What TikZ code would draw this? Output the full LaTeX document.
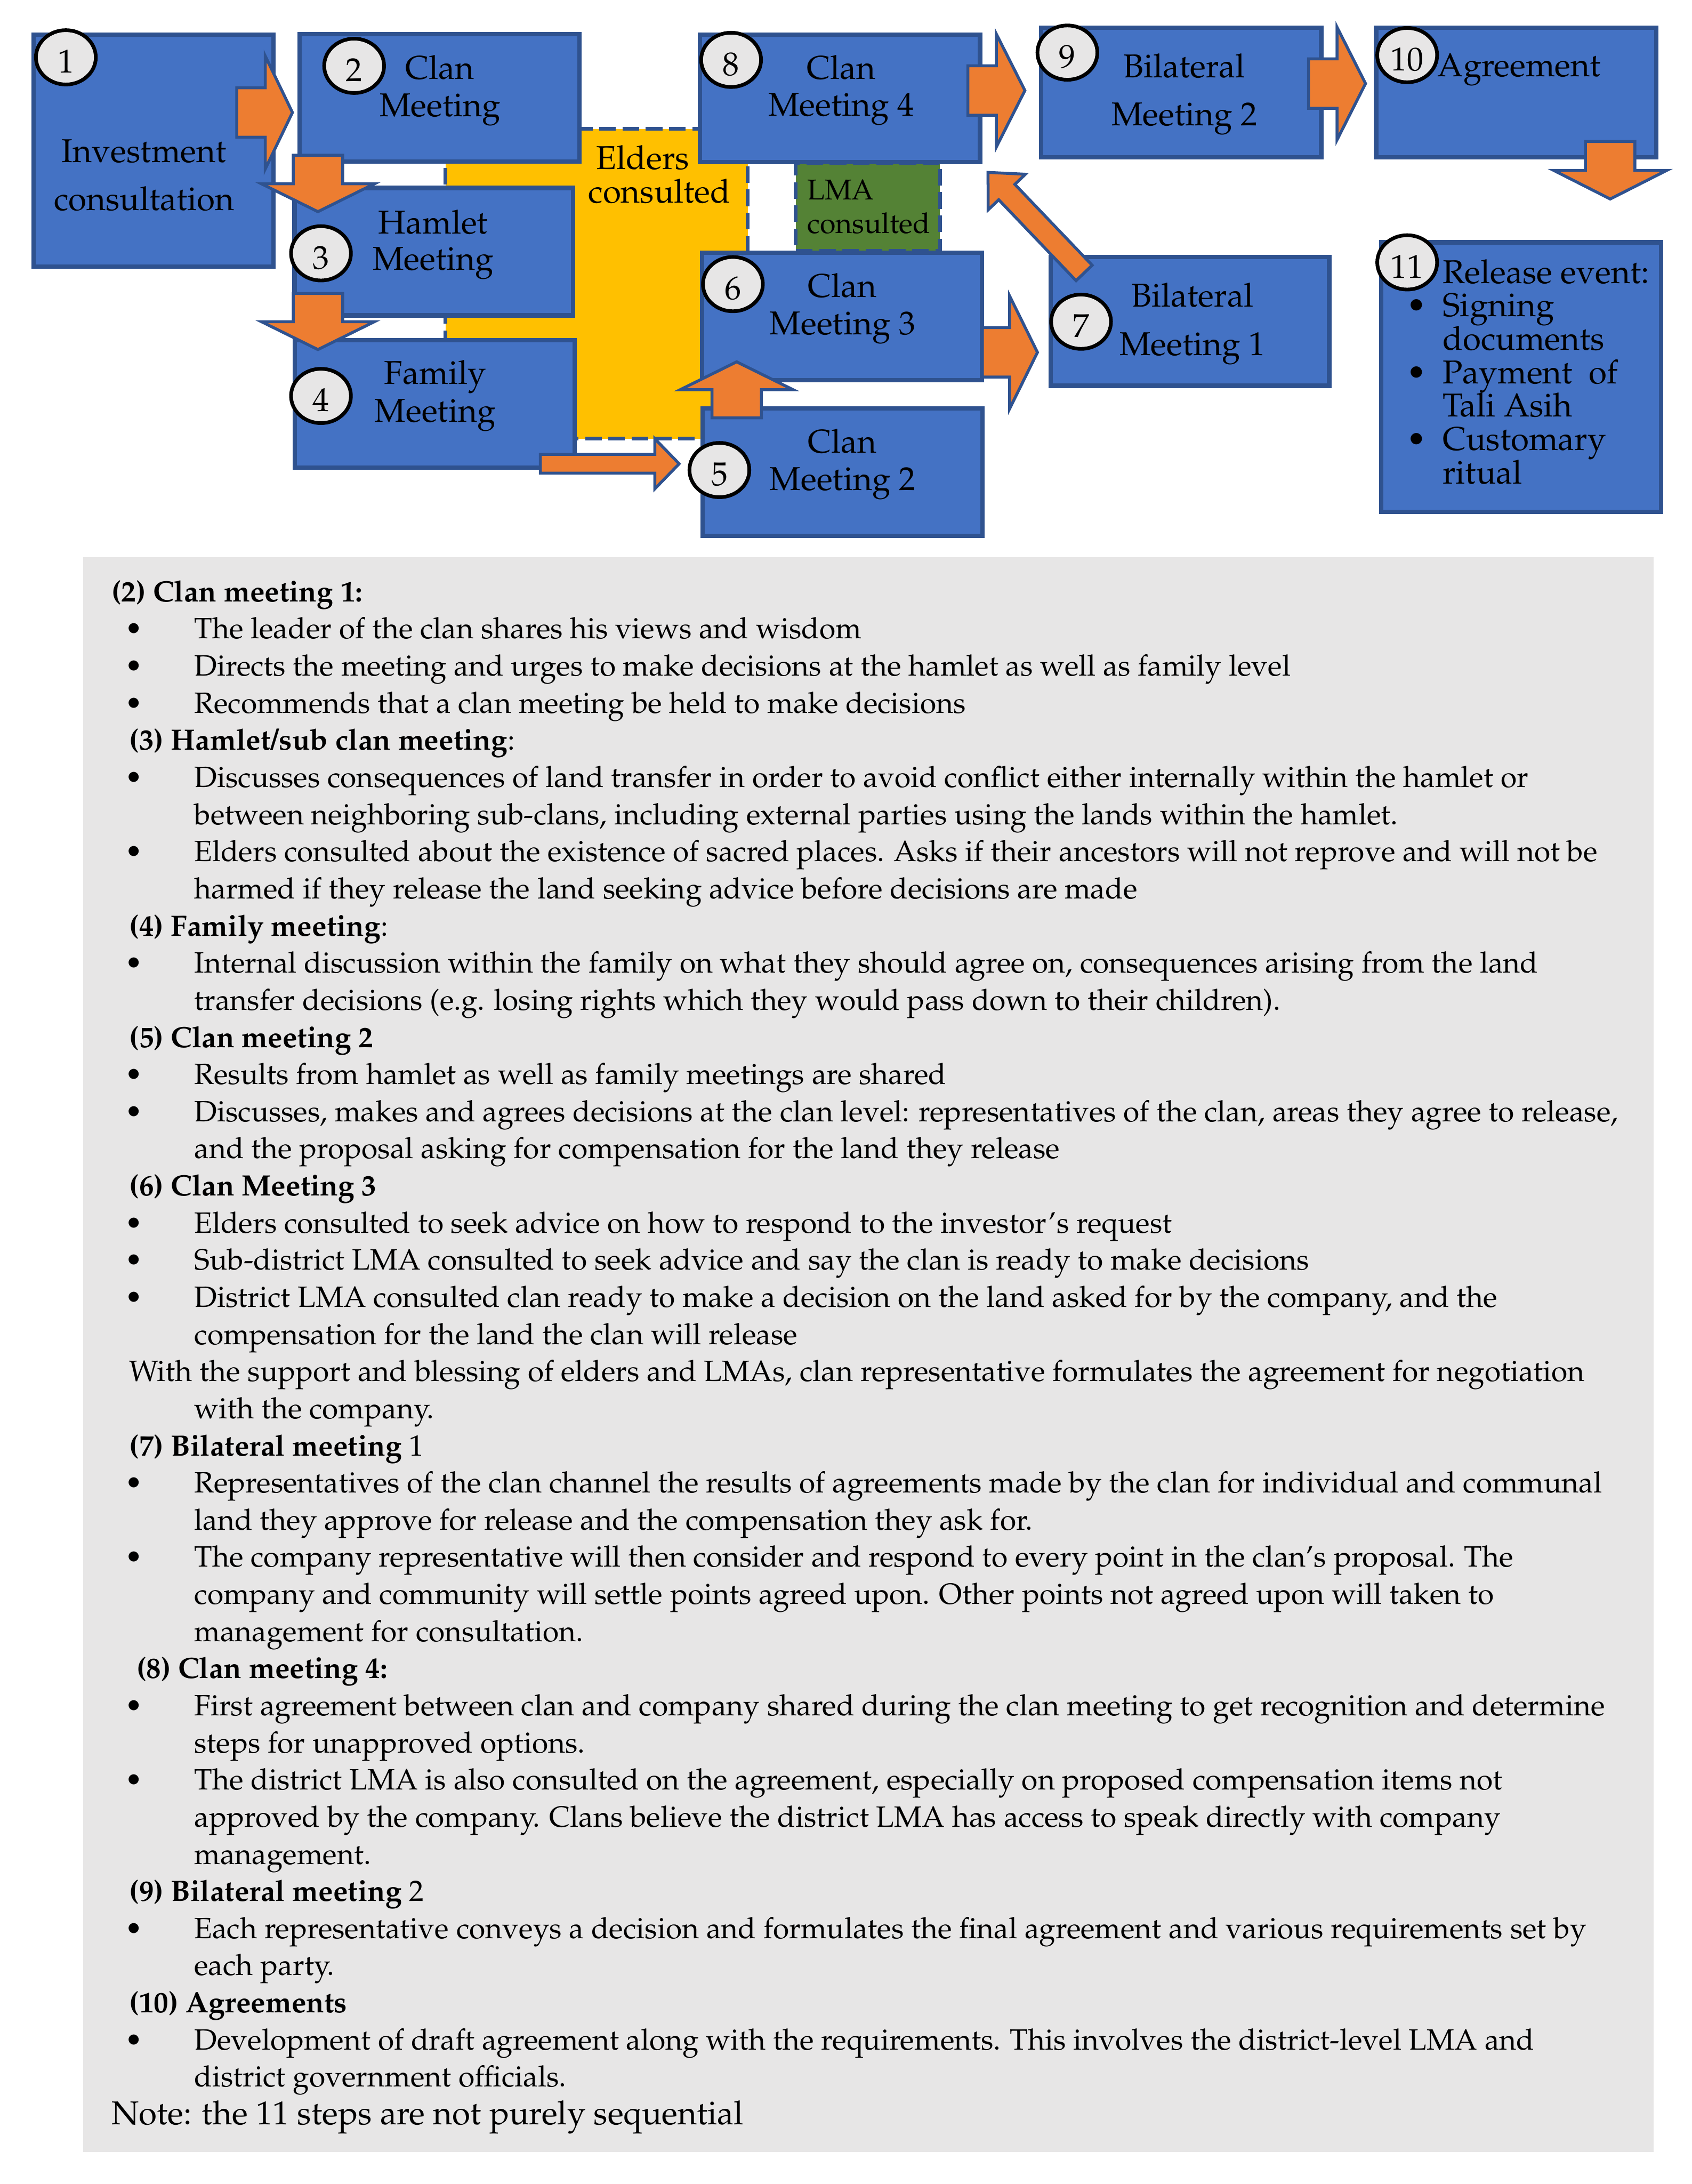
\documentclass[tikz,border=0pt]{standalone}
\usepackage[T1]{fontenc}
\usepackage{mathpazo}
\usetikzlibrary{shapes.geometric,calc}

\definecolor{boxblue}{RGB}{68,114,196}
\definecolor{boxline}{RGB}{47,82,143}
\definecolor{arrorange}{RGB}{237,125,49}
\definecolor{elderyellow}{RGB}{255,192,0}
\definecolor{lmagreen}{RGB}{84,130,53}
\definecolor{circgray}{RGB}{231,230,230}
\definecolor{panelgray}{RGB}{231,230,230}

\newcommand{\boxfont}[1]{\fontsize{13.5}{#1}\selectfont\lineskiplimit=-6pt}
\newcommand{\notefont}{\fontsize{12}{15.17}\selectfont\lineskiplimit=-6pt}
\newcommand{\fb}{\rule{0pt}{12pt}}
\newcommand{\bul}{\hspace*{9.1pt}\makebox[0pt]{\textbullet}\hspace*{24.76pt}}
\newcommand{\cont}{\hspace*{33.86pt}}
\newcommand{\hd}{\hspace*{7.34pt}}
\newcommand{\hdd}{\hspace*{10.24pt}}
\newcommand{\lb}{\hspace*{-10.75pt}\makebox[0pt]{\textbullet}\hspace*{10.75pt}}
\newcommand{\blockarrow}[5]{%
  \coordinate (neck) at ($(#2)!#5cm!(#1)$);
  \filldraw[blockarr] ($(#1)!#3cm!90:(#2)$) -- ($(neck)!#3cm!-90:(#1)$)
    -- ($(neck)!#4cm!-90:(#1)$) -- (#2) -- ($(neck)!#4cm!90:(#1)$)
    -- ($(neck)!#3cm!90:(#1)$) -- ($(#1)!#3cm!-90:(#2)$) -- cycle;
}

\begin{document}
\begin{tikzpicture}[
  stepbox/.style={rectangle, draw=boxline, fill=boxblue, line width=1.8pt, inner sep=0pt,
    minimum width=4.02cm, minimum height=1.83cm},
  numdisc/.style={ellipse, draw=black, fill=circgray, line width=1.5pt, inner sep=0pt,
    minimum width=0.86cm, minimum height=0.78cm, text height=12.7pt, text depth=0pt,
    font=\boxfont{15}},
  firstbase/.style={yshift=12pt, inner sep=0pt},
  boxtxt/.style={firstbase, anchor=north, align=center},
  lefttxt/.style={firstbase, anchor=north west, align=left},
  consulted/.style={draw=boxline, line width=1.5pt, dash pattern=on 6.8pt off 2.7pt, inner sep=0pt},
  blockarr/.style={fill=arrorange, draw=boxline, line width=1.2pt, line join=miter}]
\useasboundingbox (0,0) rectangle (24.3,31.36);
\fill[panelgray] (1.192,0.46) rectangle (23.75,23.36);

\node[consulted, fill=elderyellow, minimum width=4.34cm, minimum height=4.45cm] (elders) at (8.57,27.285) {};
\node[consulted, fill=lmagreen, minimum width=2.07cm, minimum height=1.26cm] (lma) at (12.465,28.39) {};

\node[stepbox, minimum width=3.45cm, minimum height=3.33cm] (m1) at (2.205,29.195) {};
\node[stepbox] (m2) at (6.31,29.955) {};
\node[stepbox, minimum width=4.00cm] (m3) at (6.23,27.745) {};
\node[stepbox] (m4) at (6.245,25.56) {};
\node[stepbox] (m5) at (12.10,24.58) {};
\node[stepbox] (m6) at (12.095,26.815) {};
\node[stepbox, minimum width=4.00cm, minimum height=1.85cm] (m7) at (17.09,26.745) {};
\node[stepbox] (m8) at (12.065,29.945) {};
\node[stepbox, minimum height=1.86cm] (m9) at (16.965,30.03) {};
\node[stepbox, minimum height=1.86cm] (m10) at (21.775,30.03) {};
\node[stepbox, minimum height=3.87cm] (m11) at (21.845,25.945) {};

\coordinate (a12s) at (3.40,29.744); \coordinate (a12e) at (4.20,29.744);
\coordinate (a23s) at (4.566,29.13); \coordinate (a23e) at (4.566,28.32);
\coordinate (a34s) at (4.566,27.146); \coordinate (a34e) at (4.566,26.34);
\coordinate (a45s) at (7.76,24.70); \coordinate (a45e) at (9.754,24.70);
\coordinate (a56s) at (10.58,25.36); \coordinate (a56e) at (10.58,26.164);
\coordinate (a67s) at (14.11,26.30); \coordinate (a67e) at (14.90,26.30);
\coordinate (a78s) at (15.57,27.44); \coordinate (a78e) at (14.19,28.884);
\coordinate (a89s) at (13.90,30.06); \coordinate (a89e) at (14.72,30.06);
\coordinate (a910s) at (18.792,30.16); \coordinate (a910e) at (19.612,30.16);
\coordinate (a1011s) at (23.126,29.328); \coordinate (a1011e) at (23.126,28.502);

\blockarrow{a12s}{a12e}{0.355}{0.81}{0.39}
\blockarrow{a23s}{a23e}{0.355}{0.81}{0.40}
\blockarrow{a34s}{a34e}{0.355}{0.81}{0.40}
\blockarrow{a45s}{a45e}{0.135}{0.36}{0.35}
\blockarrow{a56s}{a56e}{0.355}{0.81}{0.40}
\blockarrow{a67s}{a67e}{0.355}{0.81}{0.40}
\blockarrow{a78s}{a78e}{0.16}{0.37}{0.39}
\blockarrow{a89s}{a89e}{0.355}{0.81}{0.41}
\blockarrow{a910s}{a910e}{0.355}{0.81}{0.41}
\blockarrow{a1011s}{a1011e}{0.355}{0.81}{0.41}

\node[boxtxt, font=\boxfont{19.45}] (t1) at (2.07,29.032) {\fb Investment\\consultation};
\node[boxtxt, font=\boxfont{15.3}] (t2) at (6.32,30.232) {\fb Clan\\Meeting};
\node[boxtxt, font=\boxfont{14.85}] (t3) at (6.22,28.012) {\fb Hamlet\\Meeting};
\node[boxtxt, font=\boxfont{15.36}] (t4) at (6.25,25.848) {\fb Family\\Meeting};
\node[boxtxt, font=\boxfont{15.36}] (t5) at (12.10,24.866) {\fb Clan\\Meeting 2};
\node[boxtxt, font=\boxfont{15.36}] (t6) at (12.10,27.10) {\fb Clan\\Meeting 3};
\node[boxtxt, font=\boxfont{19.8}] (t7) at (17.126,26.96) {\fb Bilateral\\Meeting 1};
\node[boxtxt, font=\boxfont{15}] (t8) at (12.08,30.226) {\fb Clan\\Meeting 4};
\node[boxtxt, font=\boxfont{19.6}] (t9) at (17.01,30.252) {\fb Bilateral\\Meeting 2};
\node[anchor=base west, inner sep=0pt, font=\boxfont{15}] (t10) at (20.64,30.262) {Agreement};
\node[lefttxt, font=\boxfont{13.65}] (t11) at (20.714,27.30) {\fb Release event:\\\lb Signing\\documents\\\lb Payment\ \ of\\Tali Asih\\\lb Customary\\ritual};
\node[boxtxt, font=\boxfont{13.65}] (eldt) at (9.47,28.936) {\fb Elders\hspace*{13.6pt}\\consulted};
\node[lefttxt, font=\fontsize{11.7}{13.65}\selectfont] (lmat) at (11.586,28.50) {\fb LMA\\consulted};

\node[numdisc] (n1) at (0.946,30.536) {1};
\node[numdisc] (n2) at (5.086,30.414) {2};
\node[numdisc] (n3) at (4.61,27.722) {3};
\node[numdisc] (n4) at (4.61,25.674) {4};
\node[numdisc] (n5) at (10.332,24.61) {5};
\node[numdisc] (n6) at (10.526,27.28) {6};
\node[numdisc] (n7) at (15.526,26.74) {7};
\node[numdisc] (n8) at (10.50,30.50) {8};
\node[numdisc] (n9) at (15.33,30.604) {9};
\node[numdisc] (n10) at (20.21,30.568) {10};
\node[numdisc] (n11) at (20.21,27.592) {11};

\node[lefttxt, font=\notefont] (notes) at (1.594,22.728) {\fb\textbf{(2) Clan meeting 1:}\\
\bul The leader of the clan shares his views and wisdom\\
\bul Directs the meeting and urges to make decisions at the hamlet as well as family level\\
\bul Recommends that a clan meeting be held to make decisions\\
\hd\textbf{(3) Hamlet/sub clan meeting}:\\
\bul Discusses consequences of land transfer in order to avoid conflict either internally within the hamlet or\\
\cont between neighboring sub-clans, including external parties using the lands within the hamlet.\\
\bul Elders consulted about the existence of sacred places. Asks if their ancestors will not reprove and will not be\\
\cont harmed if they release the land seeking advice before decisions are made\\
\hd\textbf{(4) Family meeting}:\\
\bul Internal discussion within the family on what they should agree on, consequences arising from the land\\
\cont transfer decisions (e.g. losing rights which they would pass down to their children).\\
\hd\textbf{(5) Clan meeting 2}\\
\bul Results from hamlet as well as family meetings are shared\\
\bul Discusses, makes and agrees decisions at the clan level: representatives of the clan, areas they agree to release,\\
\cont and the proposal asking for compensation for the land they release\\
\hd\textbf{(6) Clan Meeting 3}\\
\bul Elders consulted to seek advice on how to respond to the investor's request\\
\bul Sub-district LMA consulted to seek advice and say the clan is ready to make decisions\\
\bul District LMA consulted clan ready to make a decision on the land asked for by the company, and the\\
\cont compensation for the land the clan will release\\
\hd With the support and blessing of elders and LMAs, clan representative formulates the agreement for negotiation\\
\cont with the company.\\
\hd\textbf{(7) Bilateral meeting} 1\\
\bul Representatives of the clan channel the results of agreements made by the clan for individual and communal\\
\cont land they approve for release and the compensation they ask for.\\
\bul The company representative will then consider and respond to every point in the clan's proposal. The\\
\cont company and community will settle points agreed upon. Other points not agreed upon will taken to\\
\cont management for consultation.\\
\hdd\textbf{(8) Clan meeting 4:}\\
\bul First agreement between clan and company shared during the clan meeting to get recognition and determine\\
\cont steps for unapproved options.\\
\bul The district LMA is also consulted on the agreement, especially on proposed compensation items not\\
\cont approved by the company. Clans believe the district LMA has access to speak directly with company\\
\cont management.\\
\hd\textbf{(9) Bilateral meeting} 2\\
\bul Each representative conveys a decision and formulates the final agreement and various requirements set by\\
\cont each party.\\
\hd\textbf{(10) Agreements}\\
\bul Development of draft agreement along with the requirements. This involves the district-level LMA and\\
\cont district government officials.};
\node[anchor=base west, inner sep=0pt, font=\boxfont{15}] (note) at (1.594,0.85) {Note: the 11 steps are not purely sequential};
\end{tikzpicture}
\end{document}
